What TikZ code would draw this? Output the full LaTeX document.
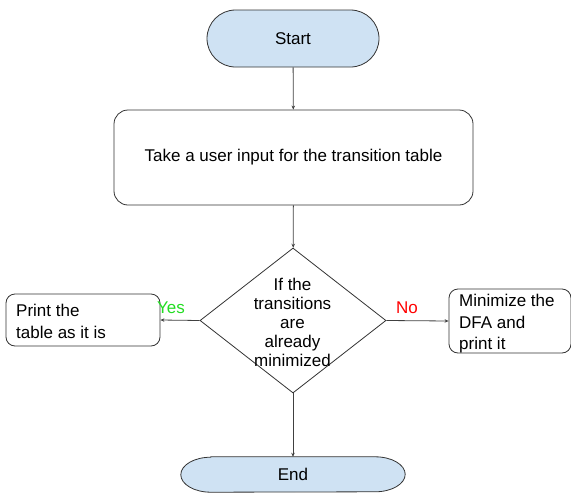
\documentclass[tikz,border=0pt]{standalone}
\usepackage{fontspec}
\setmainfont{Liberation Sans}
\usetikzlibrary{shapes.geometric,shapes.misc,arrows.meta}
\definecolor{termfill}{HTML}{CFE2F3}
\definecolor{yescol}{HTML}{22DD22}
\definecolor{nocol}{HTML}{FF0000}
\begin{document}
\begin{tikzpicture}[x=1pt,y=1pt,
  every node/.style={font=\fontsize{17}{21.5}\selectfont},
  term/.style={rounded rectangle, draw=black!80, fill=termfill, line width=0.8pt, inner sep=0},
  proc/.style={rectangle, rounded corners=14pt, draw=black!80, line width=0.8pt, inner sep=0},
  side/.style={rectangle, rounded corners=9pt, draw=black!80, line width=0.8pt, inner sep=0},
  line/.style={anchor=base west, inner sep=0},
  conn/.style={draw=black!75, line width=0.8pt, -{Stealth[length=4pt,width=3.5pt]}}]
\useasboundingbox (0,0) rectangle (571,-493);
\node[term, minimum width=172, minimum height=57] (start) at (293,-38.5) {Start};
\node[proc, minimum width=359, minimum height=95] (input) at (293.5,-157.5) {Take a user input for the transition table};
\node[diamond, draw=black!80, line width=0.8pt, minimum width=186, minimum height=145, inner sep=0] (dec) at (293,-320.5) {};
\node[align=center, inner sep=0, font=\fontsize{17}{19}\selectfont] (dectext) at (292.5,-322) {If the\\transitions\\are\\already\\minimized};
\node[side, minimum width=154, minimum height=52] (print) at (83,-320) {};
\node[line] (print1) at (16,-316) {Print the};
\node[line] (print2) at (16,-338) {table as it is};
\node[side, minimum width=122, minimum height=64] (mini) at (510,-321) {};
\node[line] (mini1) at (459,-306) {Minimize the};
\node[line] (mini2) at (459,-328) {DFA and};
\node[line] (mini3) at (459,-349) {print it};
\node[minimum width=224, minimum height=35, inner sep=0] (end) at (293,-474.5) {};
\fill[termfill] ([xshift=30]end.north west) -- ([xshift=-30]end.north east)
  arc[start angle=90,end angle=-90,x radius=30,y radius=17.5] -- ([xshift=30]end.south west)
  arc[start angle=270,end angle=90,x radius=30,y radius=17.5] -- cycle;
\draw[draw=black!80, line width=0.8pt] ([xshift=30]end.north west) -- ([xshift=-30]end.north east)
  arc[start angle=90,end angle=-90,x radius=30,y radius=17.5] -- ([xshift=30]end.south west)
  arc[start angle=270,end angle=90,x radius=30,y radius=17.5] -- cycle;
\node (endtext) at (end) {End};
\draw[conn] (start) -- (input);
\draw[conn] (input) -- (dec);
\draw[conn] (dec.west) -- (print.east);
\draw[conn] (dec.east) -- (mini.west);
\node[text=yescol] (yes) at (171,-308) {Yes};
\node[text=nocol] (no) at (407,-308) {No};
\draw[conn] (dec.south) -- (end.north);
\end{tikzpicture}
\end{document}
